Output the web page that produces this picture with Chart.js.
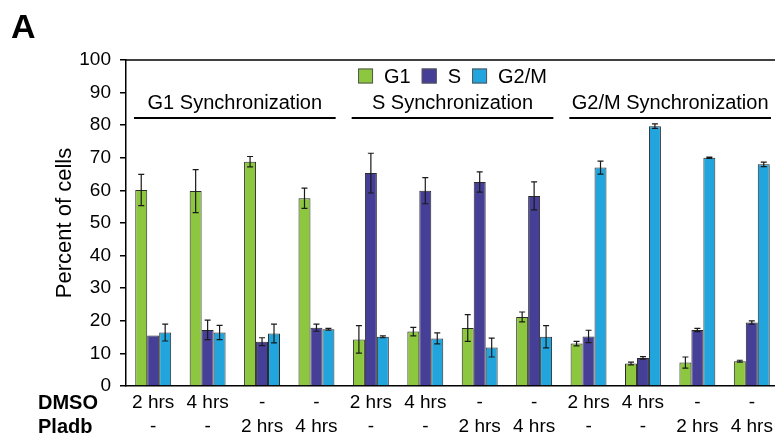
<!DOCTYPE html>
<html>
<head>
<meta charset="utf-8">
<script src="https://cdn.jsdelivr.net/npm/chart.js@4.4.0/dist/chart.umd.min.js"></script>
<style>
    html, body { margin: 0; padding: 0; background: #fff; overflow: hidden; }
    #wrap { width: 782px; height: 438px; }
</style>
</head>
<body>
<div id="wrap"><canvas id="chart" width="782" height="438"></canvas></div>
<script>
// Category labels (two rows: DMSO / Pladb)
const dmsoLabels = ['2 hrs', '4 hrs', '-', '-', '2 hrs', '4 hrs', '-', '-', '2 hrs', '4 hrs', '-', '-'];
const pladbLabels = ['-', '-', '2 hrs', '4 hrs', '-', '-', '2 hrs', '4 hrs', '-', '-', '2 hrs', '4 hrs'];
const rowNames = ['DMSO', 'Pladb'];

// Group headers (first and last category index)
const groupTitles = ['G1 Synchronization', 'S Synchronization', 'G2/M Synchronization'];
const groupRanges = [[0, 3], [4, 7], [8, 11]];

// Series values (percent of cells) and error bars
const g1Values = [60.1, 59.8, 68.8, 57.6, 14.3, 16.7, 17.8, 21.2, 13.0, 6.9, 7.2, 7.6];
const g1Errors = [4.8, 6.6, 1.6, 3.1, 4.2, 1.3, 4.1, 1.5, 0.7, 0.4, 1.7, 0.3];
const sValues = [15.5, 17.2, 13.6, 17.9, 65.3, 59.9, 62.6, 58.3, 15.2, 8.6, 17.2, 19.5];
const sErrors = [0, 3.0, 1.2, 1.1, 6.1, 4.0, 3.1, 4.3, 1.9, 0.4, 0.5, 0.5];
const g2mValues = [16.4, 16.4, 16.1, 17.4, 15.1, 14.6, 11.8, 15.1, 67.0, 79.7, 70.0, 68.0];
const g2mErrors = [2.6, 2.2, 2.9, 0.3, 0.3, 1.7, 2.9, 3.4, 2.0, 0.7, 0.2, 0.7];

const yTicks = [0, 10, 20, 30, 40, 50, 60, 70, 80, 90, 100];

const FONT = "'Liberation Sans', Arial, sans-serif";

// Error bars, top border, legend, group headers and row names
const extrasPlugin = {
    id: 'extras',
    afterDatasetsDraw(chart) {
        const { ctx, chartArea, scales } = chart;
        const x = scales.x, y = scales.y;
        ctx.save();

        // error bars
        ctx.strokeStyle = '#1a1a1a';
        ctx.lineWidth = 1.2;
        chart.data.datasets.forEach((ds, di) => {
            const meta = chart.getDatasetMeta(di);
            meta.data.forEach((bar, i) => {
                const err = ds.errors[i];
                if (!err) return;
                const top = y.getPixelForValue(ds.data[i] + err);
                const bot = y.getPixelForValue(ds.data[i] - err);
                ctx.beginPath();
                ctx.moveTo(bar.x, top); ctx.lineTo(bar.x, bot);
                ctx.moveTo(bar.x - 3, top); ctx.lineTo(bar.x + 3, top);
                ctx.moveTo(bar.x - 3, bot); ctx.lineTo(bar.x + 3, bot);
                ctx.stroke();
            });
        });

        // top border
        ctx.strokeStyle = '#000';
        ctx.lineWidth = 1.5;
        ctx.beginPath();
        ctx.moveTo(chartArea.left, chartArea.top);
        ctx.lineTo(chartArea.right, chartArea.top);
        ctx.stroke();

        // legend, one row centred over the plot
        ctx.font = '20px ' + FONT;
        ctx.textBaseline = 'middle';
        ctx.textAlign = 'left';
        const items = chart.data.datasets.map(ds => ({ ds, w: ctx.measureText(ds.label).width }));
        const total = items.reduce((s, it) => s + 15 + 11 + it.w, 0) + 11 * (items.length - 1);
        let lx = (chartArea.left + chartArea.right) / 2 - total / 2;
        const ly = chartArea.top + 16;
        items.forEach(it => {
            ctx.fillStyle = it.ds.backgroundColor;
            ctx.fillRect(lx, ly - 7.5, 15, 15);
            ctx.strokeStyle = '#555';
            ctx.lineWidth = 1;
            ctx.strokeRect(lx + 0.5, ly - 7, 14, 14);
            ctx.fillStyle = '#000';
            ctx.fillText(it.ds.label, lx + 26, ly + 1);
            lx += 15 + 11 + it.w + 11;
        });

        // group headers
        const catW = (chartArea.right - chartArea.left) / dmsoLabels.length;
        ctx.strokeStyle = '#000';
        ctx.fillStyle = '#000';
        ctx.textAlign = 'center';
        ctx.textBaseline = 'alphabetic';
        groupRanges.forEach((r, gi) => {
            const x0 = x.getPixelForValue(r[0]) - catW / 2 + 8;
            const x1 = x.getPixelForValue(r[1]) + catW / 2 - 8;
            ctx.fillText(groupTitles[gi], (x0 + x1) / 2, chartArea.top + 49);
            ctx.lineWidth = 2;
            ctx.beginPath();
            ctx.moveTo(x0, chartArea.top + 58);
            ctx.lineTo(x1, chartArea.top + 58);
            ctx.stroke();
        });

        // row names
        ctx.font = 'bold 20px ' + FONT;
        ctx.textAlign = 'left';
        ctx.textBaseline = 'middle';
        rowNames.forEach((name, ri) => {
            ctx.fillText(name, 38, chartArea.bottom + 17 + ri * 24);
        });

        // panel letter
        ctx.font = 'bold 34px ' + FONT;
        ctx.textBaseline = 'alphabetic';
        ctx.fillText('A', 11, 38);
        ctx.restore();
    }
};

const ctx = document.getElementById('chart').getContext('2d');
new Chart(ctx, {
    type: 'bar',
    data: {
        labels: dmsoLabels.map((d, i) => [d, pladbLabels[i]]),
        datasets: [
            { label: 'G1', data: g1Values, errors: g1Errors, backgroundColor: '#8DC63F' },
            { label: 'S', data: sValues, errors: sErrors, backgroundColor: '#463F97' },
            { label: 'G2/M', data: g2mValues, errors: g2mErrors, backgroundColor: '#22A5DD' }
        ]
    },
    options: {
        responsive: false,
        animation: false,
        devicePixelRatio: 1,
        layout: { padding: { top: 60, right: 3, left: 0, bottom: 0 } },
        datasets: {
            bar: {
                borderColor: '#2a2a2a',
                borderWidth: 1,
                barPercentage: 1,
                categoryPercentage: 0.66
            }
        },
        plugins: {
            legend: { display: false },
            tooltip: { enabled: false }
        },
        scales: {
            x: {
                afterFit(scale) { scale.height = 52; },
                grid: { display: false, drawTicks: false },
                border: { color: '#000', width: 1.5 },
                ticks: {
                    color: '#000',
                    padding: 5,
                    maxRotation: 0,
                    autoSkip: false,
                    font: { family: FONT, size: 19, lineHeight: 24 / 19 }
                }
            },
            y: {
                min: 0,
                max: 100,
                afterFit(scale) { scale.width = 126; },
                afterBuildTicks(scale) { scale.ticks = yTicks.map(v => ({ value: v })); },
                grid: { drawOnChartArea: false, tickLength: 6, color: '#000', lineWidth: 1.5 },
                border: { color: '#000', width: 1.5 },
                ticks: {
                    color: '#000',
                    padding: 9,
                    font: { family: FONT, size: 19 }
                },
                title: {
                    display: true,
                    text: 'Percent of cells',
                    color: '#000',
                    padding: { top: 52, bottom: 0 },
                    font: { family: FONT, size: 22 }
                }
            }
        }
    },
    plugins: [extrasPlugin]
});
</script>
</body>
</html>
